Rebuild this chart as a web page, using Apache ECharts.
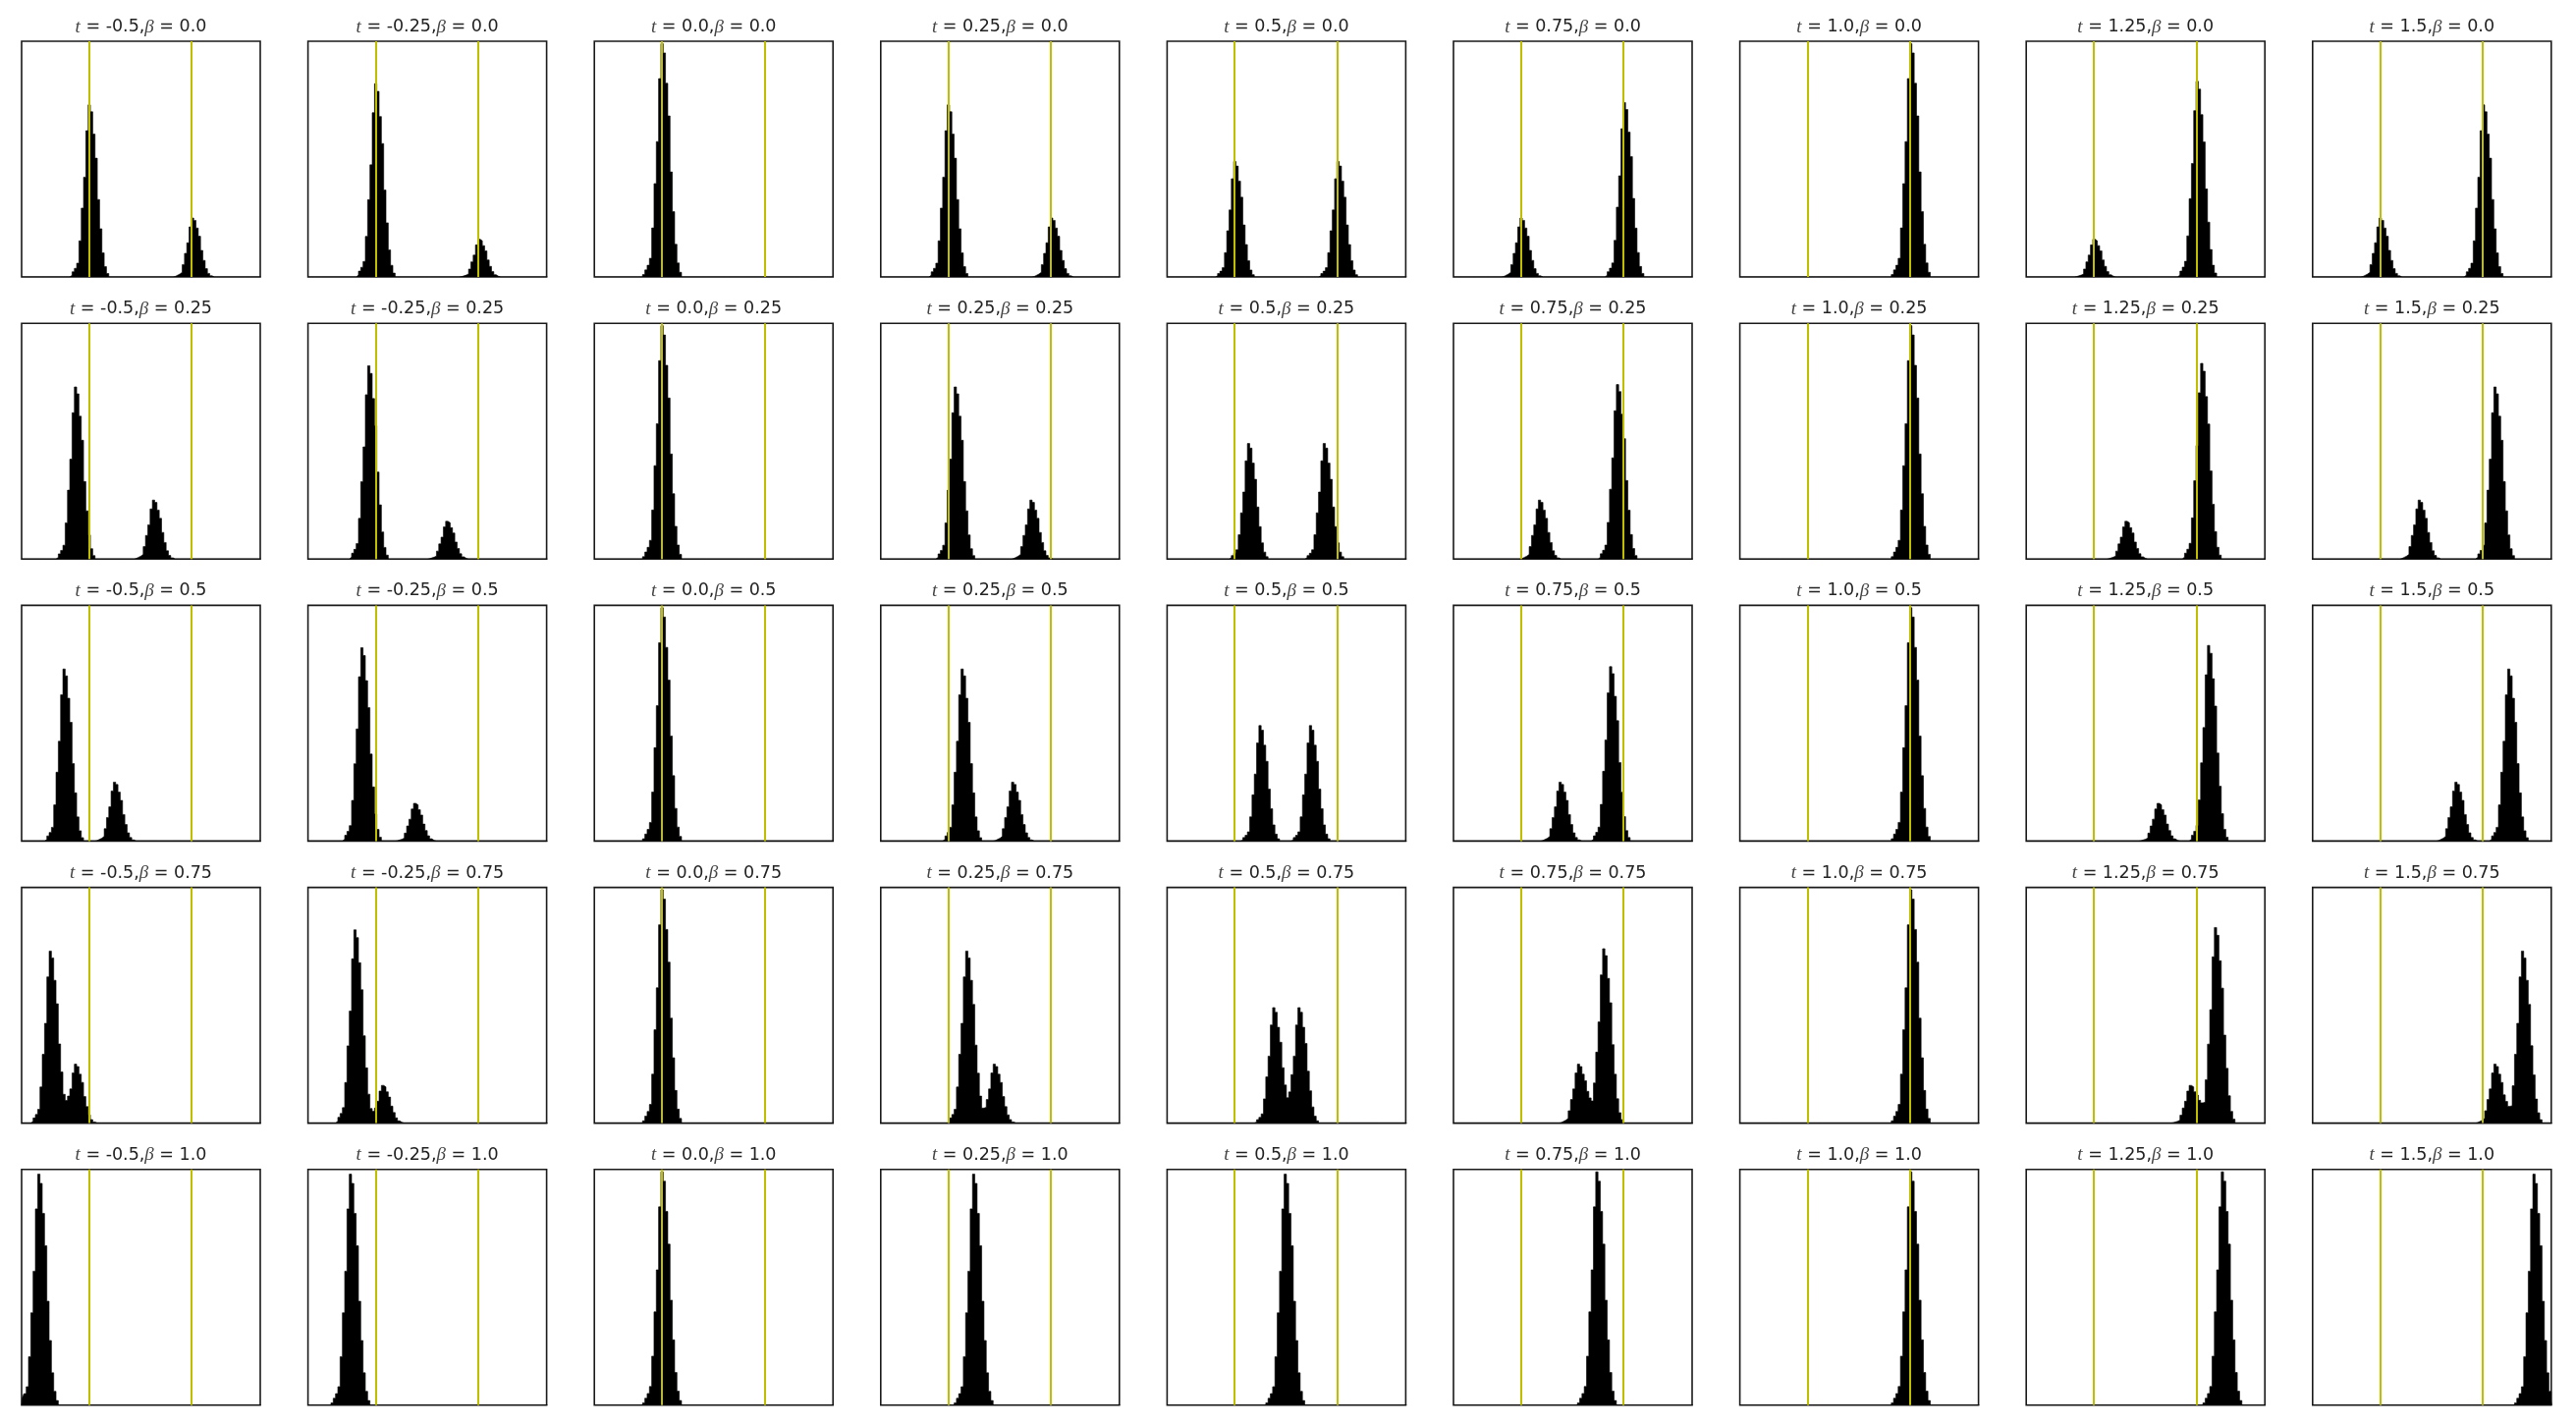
<!DOCTYPE html>
<html>
<head>
<meta charset="utf-8">
<script src="https://cdn.jsdelivr.net/npm/echarts@6/dist/echarts.min.js"></script>
<style>
html, body { margin: 0; padding: 0; background: #fff; }
#chart { width: 2623px; height: 1452px; }
</style>
</head>
<body>
<div id="chart"></div>
<script>
// panel labels (columns = t, rows = beta)
var tLabels = ['-0.5', '-0.25', '0.0', '0.25', '0.5', '0.75', '1.0', '1.25', '1.5'];
var betaLabels = ['0.0', '0.25', '0.5', '0.75', '1.0'];

// yellow reference lines
var markerLines = [0, 1];

var peakShape = [0.01, 0.03, 0.05, 0.08, 0.21, 0.40, 0.58, 0.85, 1.0, 0.96, 0.83, 0.69, 0.45, 0.28, 0.14, 0.06, 0.02];
var peakTopIndex = 8;

// height of each peak's top bar, as share of the panel height, per column
var heightA = [0.73, 0.82, 0.99, 0.73, 0.49, 0.25, 0, 0.16, 0.25];
var heightB = [0.25, 0.16, 0, 0.25, 0.49, 0.74, 0.99, 0.83, 0.73];

// peak centres per row (beta) and column (t)
var centerA = [
    [0, 0, 0, 0, 0, 0, 0, 0, 0],
    [-0.13, -0.06, 0, 0.06, 0.13, 0.19, 0.25, 0.31, 0.38],
    [-0.25, -0.13, 0, 0.13, 0.25, 0.38, 0.5, 0.63, 0.75],
    [-0.38, -0.19, 0, 0.19, 0.38, 0.56, 0.75, 0.94, 1.13],
    [-0.5, -0.25, 0, 0.25, 0.5, 0.75, 1.0, 1.25, 1.5]
];
var centerB = [
    [1, 1, 1, 1, 1, 1, 1, 1, 1],
    [0.63, 0.69, 0.75, 0.81, 0.88, 0.94, 1.0, 1.06, 1.13],
    [0.25, 0.38, 0.5, 0.63, 0.75, 0.88, 1.0, 1.13, 1.25],
    [-0.13, 0.06, 0.25, 0.44, 0.63, 0.81, 1.0, 1.19, 1.38],
    [-0.5, -0.25, 0, 0.25, 0.5, 0.75, 1.0, 1.25, 1.5]
];

var xMin = -0.66, xMax = 1.67, binWidth = 0.0224;

function buildHist(r, c) {
    var nBins = Math.ceil((xMax - xMin) / binWidth);
    var counts = [];
    for (var i = 0; i < nBins; i++) counts.push(0);
    var peaks = [[centerA[r][c], heightA[c]], [centerB[r][c], heightB[c]]];
    peaks.forEach(function (p) {
        if (!p[1]) return;
        var idx = Math.floor((p[0] - xMin) / binWidth);
        for (var k = 0; k < peakShape.length; k++) {
            var j = idx - peakTopIndex + k;
            if (j >= 0 && j < nBins) counts[j] += p[1] * peakShape[k];
        }
    });
    var data = [[xMin, 0]];
    for (var i = 0; i < nBins; i++) {
        data.push([xMin + (i + 0.5) * binWidth, counts[i]]);
    }
    data.push([xMax, 0]);
    return data;
}

function init() {
    var chart = echarts.init(document.getElementById('chart'));
    var grids = [], xAxes = [], yAxes = [], series = [], titles = [];
    var panelW = 243, panelH = 240;

    for (var r = 0; r < betaLabels.length; r++) {
        for (var c = 0; c < tLabels.length; c++) {
            var n = r * tLabels.length + c;
            var left = 22 + c * 291.6;
            var top = 42 + r * 287.2;
            grids.push({
                left: left, top: top, width: panelW, height: panelH,
                show: true, borderColor: '#1a1a1a', borderWidth: 1.6,
                backgroundColor: '#fff'
            });
            xAxes.push({
                type: 'value', gridIndex: n, min: xMin, max: xMax,
                axisLine: { show: false }, axisTick: { show: false },
                axisLabel: { show: false }, splitLine: { show: false }
            });
            yAxes.push({
                type: 'value', gridIndex: n, min: 0, max: 1,
                axisLine: { show: false }, axisTick: { show: false },
                axisLabel: { show: false }, splitLine: { show: false }
            });
            series.push({
                type: 'line', xAxisIndex: n, yAxisIndex: n,
                step: 'middle', showSymbol: false, silent: true,
                lineStyle: { color: '#000', width: 0.6 },
                areaStyle: { color: '#000', opacity: 1 },
                data: buildHist(r, c),
                markLine: {
                    silent: true, symbol: 'none', animation: false,
                    label: { show: false },
                    lineStyle: { color: '#bfbf00', width: 2, type: 'solid' },
                    data: markerLines.map(function (v) { return { xAxis: v }; })
                },
                animation: false
            });
            titles.push({
                text: '{i|t} = ' + tLabels[c] + ',{i|\u03b2} = ' + betaLabels[r],
                left: left + panelW / 2, top: top - 24, textAlign: 'center', padding: 0,
                textStyle: {
                    fontFamily: 'DejaVu Sans', fontSize: 17.5, fontWeight: 'normal', color: '#222',
                    rich: {
                        i: { fontFamily: 'Liberation Serif', fontStyle: 'italic', fontSize: 19, color: '#444' }
                    }
                }
            });
        }
    }

    chart.setOption({
        backgroundColor: '#fff',
        animation: false,
        title: titles,
        grid: grids,
        xAxis: xAxes,
        yAxis: yAxes,
        series: series
    });
}

window.addEventListener('load', init, false);
</script>
</body>
</html>
